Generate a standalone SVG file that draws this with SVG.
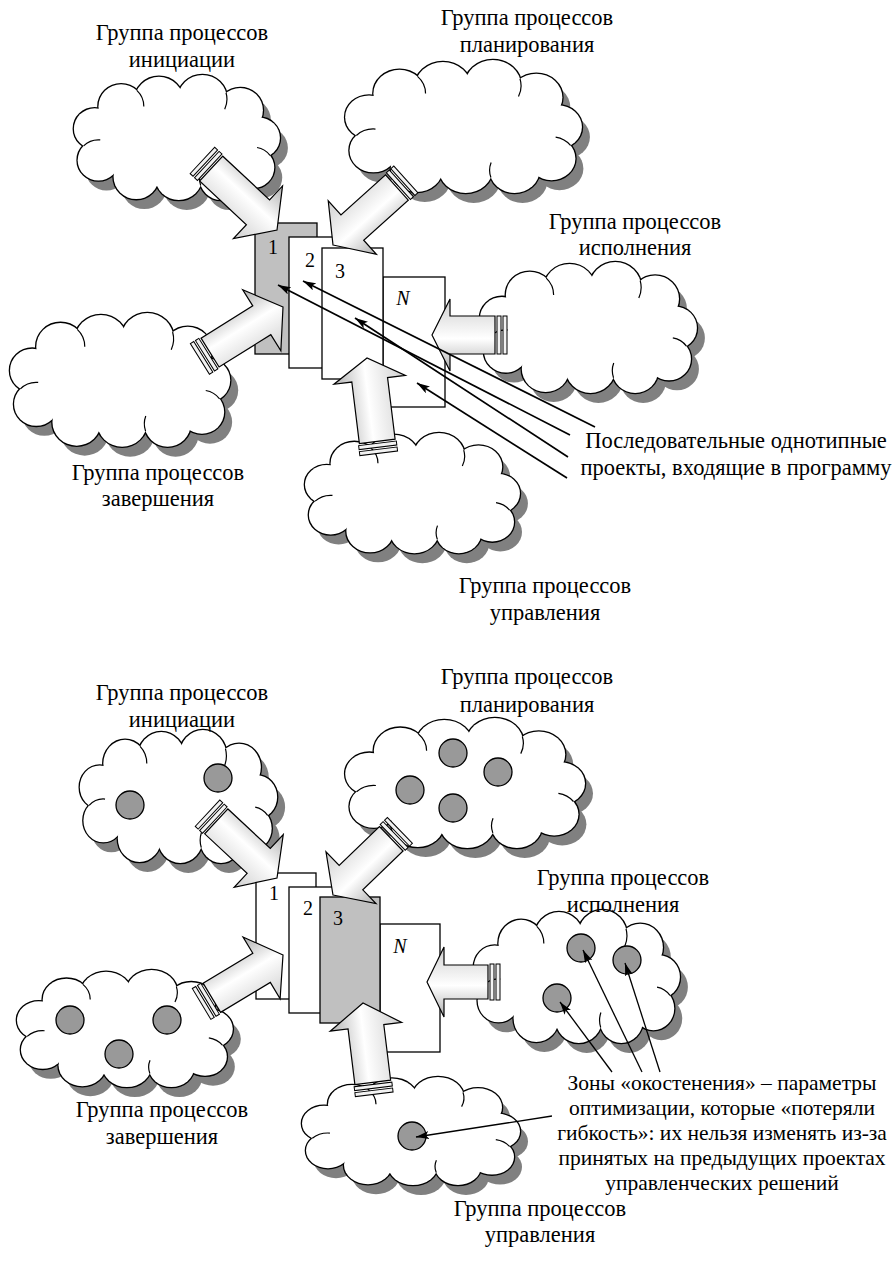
<svg xmlns="http://www.w3.org/2000/svg" width="893" height="1261" viewBox="0 0 893 1261">
<style>
.t{font-family:"Liberation Serif","Times New Roman","DejaVu Serif",serif;font-size:22.5px;text-anchor:middle;fill:#000}
.tb{font-family:"Liberation Serif","Times New Roman","DejaVu Serif",serif;font-size:21.5px;text-anchor:middle;fill:#000}
.num{font-family:"Liberation Serif","Times New Roman","DejaVu Serif",serif;font-size:20px;text-anchor:middle;fill:#000}
.it{font-style:italic}
.sh{fill:#808080;stroke:none}
.ln{fill:#fff;stroke:#000;stroke-width:2.6}
.fl{fill:#fff;stroke:none}
.inner{fill:none;stroke:#000;stroke-width:1.2}
.rc{stroke:#000;stroke-width:1.3}
.w{fill:#fff}
.g{fill:#c0c0c0}
.ba{fill:url(#ag);stroke:#000;stroke-width:1.2;stroke-linejoin:miter}
.ring{fill:#f2f2f2;stroke:#000;stroke-width:1}
.dot{fill:#999;stroke:#000;stroke-width:1.3}
.pl{fill:none;stroke:#000;stroke-width:1.7;marker-end:url(#ah)}
.zl{fill:none;stroke:#000;stroke-width:1.3;marker-end:url(#ah)}
</style>
<defs>
<linearGradient id="ag" x1="0" y1="0" x2="0" y2="1">
<stop offset="0" stop-color="#b0b0b0"/>
<stop offset="0.45" stop-color="#ffffff"/>
<stop offset="1" stop-color="#cfcfcf"/>
</linearGradient>
<marker id="ah" viewBox="0 0 13 8" refX="13" refY="4" markerWidth="13" markerHeight="8" markerUnits="userSpaceOnUse" orient="auto">
<path d="M0,0 L13,4 L0,8 L3,4 z" fill="#000"/>
</marker>
<g id="cloud">
<ellipse cx="110" cy="70" rx="88" ry="46" vector-effect="non-scaling-stroke"/>
<circle cx="24" cy="58" r="22" vector-effect="non-scaling-stroke"/>
<circle cx="28" cy="92" r="22" vector-effect="non-scaling-stroke"/>
<circle cx="52" cy="34" r="24" vector-effect="non-scaling-stroke"/>
<circle cx="92" cy="28" r="26" vector-effect="non-scaling-stroke"/>
<circle cx="138" cy="26" r="26" vector-effect="non-scaling-stroke"/>
<circle cx="178" cy="38" r="24" vector-effect="non-scaling-stroke"/>
<circle cx="198" cy="68" r="22" vector-effect="non-scaling-stroke"/>
<circle cx="192" cy="100" r="22" vector-effect="non-scaling-stroke"/>
<circle cx="158" cy="112" r="23" vector-effect="non-scaling-stroke"/>
<circle cx="113" cy="110" r="25" vector-effect="non-scaling-stroke"/>
<circle cx="68" cy="110" r="24" vector-effect="non-scaling-stroke"/>
</g>
<path id="cloudInner" d="M12.3,76.6 A22,22 0 0 1 29.9,70.1 M68.6,16.6 A24,24 0 0 1 76,34 M209.5,86.7 A22,22 0 0 0 195.8,78.3 M136.2,119.3 A23,23 0 0 1 136.4,104.1 M163,19.2 A26,26 0 0 1 161.6,37" vector-effect="non-scaling-stroke"/>
</defs>

<!-- ================= TOP HALF ================= -->
<g id="cloud-top-init">
<use href="#cloud" class="sh" transform="translate(80,85) scale(0.945,0.926)"/>
<use href="#cloud" class="ln" transform="translate(72,75) scale(0.945,0.926)"/>
<use href="#cloud" class="fl" transform="translate(72,75) scale(0.945,0.926)"/>
<use href="#cloudInner" class="inner" transform="translate(72,75) scale(0.945,0.926)"/>
</g>
<g id="cloud-top-plan">
<use href="#cloud" class="sh" transform="translate(351,70) scale(1.086,0.985)"/>
<use href="#cloud" class="ln" transform="translate(343,60) scale(1.086,0.985)"/>
<use href="#cloud" class="fl" transform="translate(343,60) scale(1.086,0.985)"/>
<use href="#cloudInner" class="inner" transform="translate(343,60) scale(1.086,0.985)"/>
</g>
<g id="cloud-top-exec">
<use href="#cloud" class="sh" transform="translate(486,272) scale(0.995,0.97)"/>
<use href="#cloud" class="ln" transform="translate(478,262) scale(0.995,0.97)"/>
<use href="#cloud" class="fl" transform="translate(478,262) scale(0.995,0.97)"/>
<use href="#cloudInner" class="inner" transform="translate(478,262) scale(0.995,0.97)"/>
</g>
<g id="cloud-top-compl">
<use href="#cloud" class="sh" transform="translate(16,323) scale(1.01,0.99)"/>
<use href="#cloud" class="ln" transform="translate(8,313) scale(1.01,0.99)"/>
<use href="#cloud" class="fl" transform="translate(8,313) scale(1.01,0.99)"/>
<use href="#cloudInner" class="inner" transform="translate(8,313) scale(1.01,0.99)"/>
</g>
<g id="cloud-top-ctrl">
<use href="#cloud" class="sh" transform="translate(311,443) scale(0.986,0.89)"/>
<use href="#cloud" class="ln" transform="translate(303,433) scale(0.986,0.89)"/>
<use href="#cloud" class="fl" transform="translate(303,433) scale(0.986,0.89)"/>
<use href="#cloudInner" class="inner" transform="translate(303,433) scale(0.986,0.89)"/>
</g>

<g id="proj-top">
<rect id="top-rN" class="rc w" x="383" y="277" width="62" height="130"/>
<rect id="top-r1" class="rc g" x="255" y="223" width="62" height="131"/>
<rect id="top-r2" class="rc w" x="289" y="237" width="62" height="131"/>
<rect id="top-r3" class="rc w" x="322" y="248" width="61" height="131"/>
<text class="num" x="273" y="254">1</text>
<text class="num" x="310" y="267">2</text>
<text class="num" x="340" y="278">3</text>
<text class="num it" x="403" y="305">N</text>
</g>

<g id="arrows-top">
<g id="arr-top-init" transform="translate(277,230) rotate(43)">
<polygon class="ba" points="0,0 -26,-36 -26,-17 -90,-17 -90,17 -26,17 -26,36"/>
<rect class="ring" x="-96" y="-18" width="4" height="36"/>
<rect class="ring" x="-102" y="-18" width="4" height="36"/>
</g>
<g id="arr-top-plan" transform="translate(333,245) rotate(138)">
<polygon class="ba" points="0,0 -26,-36 -26,-17 -86,-17 -86,17 -26,17 -26,36"/>
<rect class="ring" x="-92" y="-18" width="4" height="36"/>
<rect class="ring" x="-98" y="-18" width="4" height="36"/>
</g>
<g id="arr-top-exec" transform="translate(432,335) rotate(180)">
<polygon class="ba" points="0,0 -18,-36 -18,-19 -63,-19 -63,19 -18,19 -18,36"/>
<rect class="ring" x="-69" y="-19" width="4" height="38"/>
<rect class="ring" x="-75" y="-19" width="4" height="38"/>
</g>
<g id="arr-top-compl" transform="translate(283,307) rotate(-32)">
<polygon class="ba" points="0,0 -25,-36 -25,-17 -86,-17 -86,17 -25,17 -25,36"/>
<rect class="ring" x="-92" y="-18" width="4" height="36"/>
<rect class="ring" x="-98" y="-18" width="4" height="36"/>
</g>
<g id="arr-top-ctrl" transform="translate(367,358) rotate(-97)">
<polygon class="ba" points="0,0 -22,-36 -22,-18 -84,-18 -84,18 -22,18 -22,36"/>
<rect class="ring" x="-90" y="-19" width="4" height="38"/>
<rect class="ring" x="-96" y="-19" width="4" height="38"/>
</g>
</g>

<g id="connectors-top">
<line class="pl" x1="570" y1="435" x2="278" y2="285"/>
<line class="pl" x1="595" y1="427" x2="303" y2="281"/>
<line class="pl" x1="568" y1="457" x2="355" y2="318"/>
<line class="pl" x1="567" y1="478" x2="417" y2="383"/>
</g>

<g id="labels-top">
<text class="t" x="182" y="40">Группа процессов</text>
<text class="t" x="182" y="67">инициации</text>
<text class="t" x="527" y="25">Группа процессов</text>
<text class="t" x="527" y="52">планирования</text>
<text class="t" x="635" y="229">Группа процессов</text>
<text class="t" x="635" y="255">исполнения</text>
<text class="t" x="158" y="480">Группа процессов</text>
<text class="t" x="158" y="506">завершения</text>
<text class="t" x="545" y="593">Группа процессов</text>
<text class="t" x="545" y="620">управления</text>
<text class="t" x="736" y="448">Последовательные однотипные</text>
<text class="t" x="736" y="475">проекты, входящие в программу</text>
</g>

<!-- ================= BOTTOM HALF ================= -->
<g id="cloud-bot-init">
<use href="#cloud" class="sh" transform="translate(86,740) scale(0.905,0.985)"/>
<use href="#cloud" class="ln" transform="translate(78,730) scale(0.905,0.985)"/>
<use href="#cloud" class="fl" transform="translate(78,730) scale(0.905,0.985)"/>
<use href="#cloudInner" class="inner" transform="translate(78,730) scale(0.905,0.985)"/>
<circle class="dot" cx="130" cy="805" r="14"/>
<circle class="dot" cx="218" cy="778" r="14"/>
</g>
<g id="cloud-bot-plan">
<use href="#cloud" class="sh" transform="translate(351,728) scale(1.1,0.963)"/>
<use href="#cloud" class="ln" transform="translate(343,718) scale(1.1,0.963)"/>
<use href="#cloud" class="fl" transform="translate(343,718) scale(1.1,0.963)"/>
<use href="#cloudInner" class="inner" transform="translate(343,718) scale(1.1,0.963)"/>
<circle class="dot" cx="453" cy="753" r="14"/>
<circle class="dot" cx="410" cy="790" r="14"/>
<circle class="dot" cx="453" cy="808" r="14"/>
<circle class="dot" cx="498" cy="772" r="14"/>
</g>
<g id="cloud-bot-exec">
<use href="#cloud" class="sh" transform="translate(480,920) scale(0.945,0.985)"/>
<use href="#cloud" class="ln" transform="translate(472,910) scale(0.945,0.985)"/>
<use href="#cloud" class="fl" transform="translate(472,910) scale(0.945,0.985)"/>
<use href="#cloudInner" class="inner" transform="translate(472,910) scale(0.945,0.985)"/>
<circle class="dot" cx="581" cy="948" r="14"/>
<circle class="dot" cx="627" cy="960" r="14"/>
<circle class="dot" cx="557" cy="998" r="14"/>
</g>
<g id="cloud-bot-compl">
<use href="#cloud" class="sh" transform="translate(23,980) scale(0.99,0.867)"/>
<use href="#cloud" class="ln" transform="translate(15,970) scale(0.99,0.867)"/>
<use href="#cloud" class="fl" transform="translate(15,970) scale(0.99,0.867)"/>
<use href="#cloudInner" class="inner" transform="translate(15,970) scale(0.99,0.867)"/>
<circle class="dot" cx="70" cy="1020" r="14"/>
<circle class="dot" cx="167" cy="1020" r="14"/>
<circle class="dot" cx="119" cy="1054" r="14"/>
</g>
<g id="cloud-bot-ctrl">
<use href="#cloud" class="sh" transform="translate(308,1087) scale(1.0,0.8)"/>
<use href="#cloud" class="ln" transform="translate(300,1077) scale(1.0,0.8)"/>
<use href="#cloud" class="fl" transform="translate(300,1077) scale(1.0,0.8)"/>
<use href="#cloudInner" class="inner" transform="translate(300,1077) scale(1.0,0.8)"/>
<circle class="dot" cx="412" cy="1136" r="14"/>
</g>

<g id="proj-bot">
<rect id="bot-rN" class="rc w" x="380" y="924" width="60" height="128"/>
<rect id="bot-r1" class="rc w" x="256" y="873" width="60" height="126"/>
<rect id="bot-r2" class="rc w" x="289" y="887" width="60" height="126"/>
<rect id="bot-r3" class="rc g" x="320" y="897" width="60" height="126"/>
<text class="num" x="274" y="900">1</text>
<text class="num" x="308" y="915">2</text>
<text class="num" x="338" y="925">3</text>
<text class="num it" x="400" y="953">N</text>
</g>

<g id="arrows-bot">
<g id="arr-bot-init" transform="translate(277,878) rotate(43)">
<polygon class="ba" points="0,0 -25,-36 -25,-17 -83,-17 -83,17 -25,17 -25,36"/>
<rect class="ring" x="-89" y="-18" width="4" height="36"/>
<rect class="ring" x="-95" y="-18" width="4" height="36"/>
</g>
<g id="arr-bot-plan" transform="translate(333,895) rotate(136)">
<polygon class="ba" points="0,0 -25,-36 -25,-17 -81,-17 -81,17 -25,17 -25,36"/>
<rect class="ring" x="-87" y="-18" width="4" height="36"/>
<rect class="ring" x="-93" y="-18" width="4" height="36"/>
</g>
<g id="arr-bot-exec" transform="translate(427,982) rotate(180)">
<polygon class="ba" points="0,0 -17,-35 -17,-17 -61,-17 -61,17 -17,17 -17,35"/>
<rect class="ring" x="-67" y="-18" width="4" height="36"/>
<rect class="ring" x="-73" y="-18" width="4" height="36"/>
</g>
<g id="arr-bot-compl" transform="translate(283,955) rotate(-31)">
<polygon class="ba" points="0,0 -25,-36 -25,-17 -83,-17 -83,17 -25,17 -25,36"/>
<rect class="ring" x="-89" y="-18" width="4" height="36"/>
<rect class="ring" x="-95" y="-18" width="4" height="36"/>
</g>
<g id="arr-bot-ctrl" transform="translate(363,1003) rotate(-97)">
<polygon class="ba" points="0,0 -24,-36 -24,-18 -80,-18 -80,18 -24,18 -24,36"/>
<rect class="ring" x="-86" y="-19" width="4" height="38"/>
<rect class="ring" x="-92" y="-19" width="4" height="38"/>
</g>
</g>

<g id="connectors-bot">
<line class="zl" x1="642" y1="1072" x2="583" y2="950"/>
<line class="zl" x1="660" y1="1072" x2="625" y2="963"/>
<line class="zl" x1="612" y1="1072" x2="560" y2="1002"/>
<line class="zl" x1="552" y1="1116" x2="416" y2="1137"/>
</g>

<g id="labels-bot">
<text class="t" x="182" y="700">Группа процессов</text>
<text class="t" x="182" y="727">инициации</text>
<text class="t" x="527" y="684">Группа процессов</text>
<text class="t" x="527" y="712">планирования</text>
<text class="t" x="623" y="885">Группа процессов</text>
<text class="t" x="623" y="912">исполнения</text>
<text class="t" x="162" y="1117">Группа процессов</text>
<text class="t" x="162" y="1144">завершения</text>
<text class="t" x="540" y="1216">Группа процессов</text>
<text class="t" x="540" y="1242">управления</text>
<text class="tb" x="722" y="1090">Зоны «окостенения» – параметры</text>
<text class="tb" x="722" y="1115">оптимизации, которые «потеряли</text>
<text class="tb" x="722" y="1140">гибкость»: их нельзя изменять из-за</text>
<text class="tb" x="722" y="1165">принятых на предыдущих проектах</text>
<text class="tb" x="722" y="1190">управленческих решений</text>
</g>
</svg>
